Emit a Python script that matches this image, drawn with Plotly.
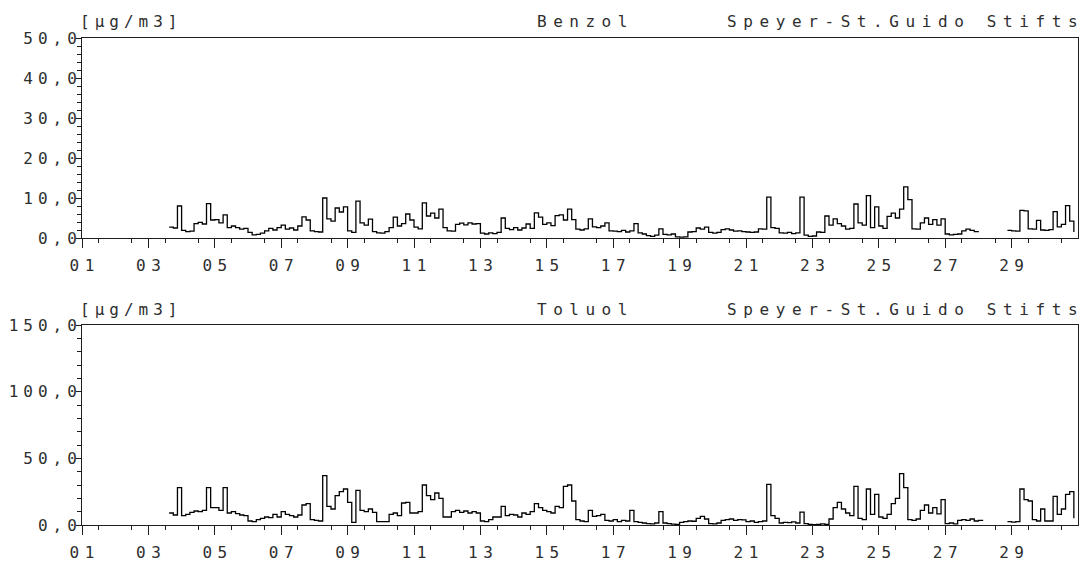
import numpy as np
import plotly.graph_objects as go

N = None
# 3-hourly values (8 per day: 00,03,06,09,12,15,18,21 h), days 01..30
benzol = [
    N, N, N, N, N, N, N, N,                     # 01
    N, N, N, N, N, N, N, N,                     # 02
    N, N, N, N, N, 2.7, 2.5, 8.0,               # 03
    1.9, 1.6, 1.7, 3.6, 3.9, 3.5, 8.6, 4.5,     # 04
    4.6, 3.8, 5.8, 2.6, 3.0, 2.6, 2.2, 2.4,     # 05
    1.4, 0.8, 0.9, 1.2, 1.8, 2.4, 2.0, 2.6,     # 06
    3.2, 2.2, 2.5, 2.0, 3.0, 5.3, 4.5, 1.8,     # 07
    1.6, 1.5, 10.0, 4.8, 4.2, 7.5, 6.5, 7.8,    # 08
    1.8, 1.4, 9.2, 3.8, 3.2, 4.7, 1.6, 1.3,     # 09
    1.2, 1.6, 2.6, 5.2, 3.0, 3.6, 6.0, 4.5,     # 10
    2.7, 2.3, 8.8, 5.5, 6.2, 5.0, 7.2, 2.6,     # 11
    1.8, 1.7, 3.4, 3.7, 3.3, 3.8, 3.5, 3.6,     # 12
    1.2, 1.0, 1.3, 1.1, 1.4, 5.0, 2.4, 2.1,     # 13
    2.6, 2.0, 2.5, 3.5, 2.4, 6.3, 5.2, 3.4,     # 14
    3.8, 3.1, 5.6, 5.8, 4.5, 7.2, 4.6, 2.2,     # 15
    2.0, 2.3, 4.8, 2.8, 2.6, 3.0, 3.8, 1.8,     # 16
    1.7, 1.6, 1.9, 1.5, 1.8, 3.6, 1.3, 1.0,     # 17
    0.6, 0.4, 0.7, 2.3, 0.9, 0.8, 1.0, 0.3,     # 18
    0.2, 0.3, 1.5, 1.6, 2.5, 2.2, 2.7, 1.4,     # 19
    1.2, 1.4, 2.1, 2.3, 2.0, 1.7, 1.8, 1.6,     # 20
    1.5, 1.4, 1.5, 2.3, 2.2, 10.2, 2.6, 2.4,    # 21
    1.3, 1.2, 1.4, 1.1, 1.3, 10.2, 0.7, 0.4,    # 22
    0.5, 1.5, 1.4, 5.5, 3.2, 4.8, 3.6, 3.0,     # 23
    2.2, 2.4, 8.5, 3.8, 3.2, 10.6, 2.6, 7.8,    # 24
    3.0, 2.4, 5.4, 6.2, 5.0, 7.2, 12.8, 9.6,    # 25
    2.3, 2.2, 3.8, 5.0, 3.4, 4.6, 3.2, 4.8,     # 26
    1.0, 0.8, 0.9, 1.0, 1.8, 2.2, 1.9, 1.6,     # 27
    1.7, N, N, N, N, N, N, 1.9,                 # 28
    1.8, 1.7, 6.9, 6.8, 2.3, 2.2, 4.4, 2.0,     # 29
    1.9, 2.1, 6.6, 2.8, 3.4, 8.1, 4.2, 1.5,     # 30
]

toluol = [
    N, N, N, N, N, N, N, N,                     # 01
    N, N, N, N, N, N, N, N,                     # 02
    N, N, N, N, N, 9, 7.5, 28,                  # 03
    7, 8, 9.5, 10.5, 10, 11, 28, 13,            # 04
    13, 11, 28, 9, 10, 8.5, 7.5, 7,             # 05
    3, 2.5, 4, 5, 6, 5.5, 8, 6,                 # 06
    10, 8, 7, 6, 7.5, 15, 16, 4,                # 07
    3.5, 3, 37, 14, 12, 22, 25, 27,             # 08
    17, 2, 26, 11, 10, 12, 9.5, 2.5,            # 09
    2.5, 2.5, 8, 9, 7, 16.5, 17, 9,             # 10
    9, 10, 30, 22, 19, 24, 20, 6,               # 11
    6, 10, 11, 9.5, 10.5, 9, 10, 9,             # 12
    3, 2.5, 4, 6, 6, 14, 7, 8,                  # 13
    7.5, 6, 9, 8, 10, 16, 13, 11,               # 14
    10, 9, 14, 13, 29, 30, 18, 4,               # 15
    3, 2.5, 11, 6.5, 7, 8, 3.5, 3,              # 16
    4, 2.5, 3.5, 3, 11, 2.5, 2, 1.5,            # 17
    1, 0.8, 1.5, 10, 1.5, 1.0, 0.6, 0.4,        # 18
    2, 2.5, 3, 2.8, 5, 6.5, 4.5, 1.0,           # 19
    0.8, 1.5, 3.5, 4, 4.5, 3.5, 4, 3.8,         # 20
    2.5, 3, 2, 2.5, 3, 30.5, 7, 5,              # 21
    1.5, 2, 1.8, 2.4, 1.5, 9.7, 1, 0.5,         # 22
    0.3, 0.5, 0.8, 0.5, 4.5, 13, 17, 12,        # 23
    9, 7, 29, 5, 4, 27, 8, 23,                  # 24
    6, 5, 8, 16, 20, 38.5, 28, 4,               # 25
    3.5, 4.5, 11, 15, 9, 13, 8.4, 19,           # 26
    1, 1.5, 0.8, 3.5, 4, 3.5, 4.5, 3,           # 27
    3.5, 3, N, N, N, N, N, 2.5,                 # 28
    2.2, 2.5, 27, 19, 18, 4, 3, 12,             # 29
    3, 3, 21.5, 8, 12, 23, 25, 5,               # 30
]

samples_per_day = 8
days_in_month = 30

day_tick_values = [1, 3, 5, 7, 9, 11, 13, 15, 17, 19, 21, 23, 25, 27, 29]
day_tick_labels = ["01", "03", "05", "07", "09", "11", "13", "15", "17", "19",
                   "21", "23", "25", "27", "29"]

benzol_ticks = [0, 10, 20, 30, 40, 50]
benzol_tick_labels = ["0,0", "10,0", "20,0", "30,0", "40,0", "50,0"]
toluol_ticks = [0, 50, 100, 150]
toluol_tick_labels = ["0,0", "50,0", "100,0", "150,0"]

unit_label = "[µg/m3]"
titles = ["Benzol", "Toluol"]
station = "Speyer-St.Guido Stifts"

# ---------------------------------------------------------------------------
W, H = 1085, 566
L, R, T, B = 82, 7, 38, 41
PW, PH = W - L - R, H - T - B
FONT = "DejaVu Sans Mono"
INK = "#1e1e1e"
TXT = "#2e2e2e"


def px(xp):
    return (xp - L) / PW


def py(yp):
    return (H - B - yp) / PH


def spaced(s, ls):
    if len(s) < 2:
        return s
    return f'<span style="letter-spacing:{ls}px">{s[:-1]}</span>{s[-1]}'


x = 1 + np.arange(len(benzol)) / samples_per_day
x_end = 1 + days_in_month

fig = go.Figure()
fig.add_trace(go.Scatter(x=x, y=benzol, mode="lines", xaxis="x", yaxis="y",
                         line=dict(color="black", width=1.3, shape="hv"),
                         showlegend=False, connectgaps=False))
fig.add_trace(go.Scatter(x=x, y=toluol, mode="lines", xaxis="x2", yaxis="y2",
                         line=dict(color="black", width=1.3, shape="hv"),
                         showlegend=False, connectgaps=False))

tickfont = dict(family=FONT, size=16, color=TXT)
half_days = list(np.arange(1.5, x_end, 1.0))
whole_days = [d for d in range(2, x_end) if d not in day_tick_values]


def xaxis_cfg(anchor):
    return dict(anchor=anchor, domain=[0, 1], range=[1, x_end], automargin=False,
                tickmode="array", tickvals=day_tick_values,
                ticktext=[spaced(t, 5.5) for t in day_tick_labels],
                ticks="outside", ticklen=9, tickwidth=1, tickcolor=INK,
                showline=True, linecolor=INK, linewidth=1, mirror=True,
                showgrid=False, zeroline=False, tickfont=tickfont,
                ticklabelstandoff=4,
                minor=dict(tickmode="array", tickvals=half_days, ticks="outside",
                           ticklen=4, tickwidth=1, tickcolor=INK, showgrid=False))


def xaxis_mid(over, anchor):
    return dict(overlaying=over, anchor=anchor, range=[1, x_end], automargin=False,
                tickmode="array", tickvals=whole_days, ticks="outside",
                ticklen=6, tickwidth=1, tickcolor=INK, showticklabels=False,
                showline=False, showgrid=False, zeroline=False)


def yaxis_cfg(anchor, dom, rng, tv, tt, minor_dt):
    return dict(anchor=anchor, domain=dom, range=rng, tickmode="array",
                automargin=False,
                tickvals=tv, ticktext=[spaced(t, 5) for t in tt],
                ticks="outside", ticklen=5, tickwidth=1, tickcolor=INK,
                showline=True, linecolor=INK, linewidth=1, mirror=True,
                showgrid=False, zeroline=False, tickfont=tickfont,
                ticklabelstandoff=-4,
                minor=dict(dtick=minor_dt, tick0=0, ticks="outside", ticklen=4,
                           tickwidth=1, tickcolor=INK, showgrid=False))


top_dom = [py(238), 1]
bot_dom = [0, py(325)]

fig.update_layout(
    width=W, height=H, autosize=False,
    margin=dict(l=L, r=R, t=T, b=B, pad=0, autoexpand=False),
    paper_bgcolor="white", plot_bgcolor="white",
    xaxis=xaxis_cfg("y"),
    xaxis2=xaxis_cfg("y2"),
    xaxis3=xaxis_mid("x", "y"),
    xaxis4=xaxis_mid("x2", "y2"),
    yaxis=yaxis_cfg("x", top_dom, [0, 50], benzol_ticks, benzol_tick_labels, 2),
    yaxis2=yaxis_cfg("x2", bot_dom, [0, 150], toluol_ticks, toluol_tick_labels, 10),
)

annots = []
for ycen, title in [(22, titles[0]), (309, titles[1])]:
    annots.append(dict(text=spaced(unit_label, 5), x=px(78), y=py(ycen),
                       xanchor="left", yanchor="middle"))
    annots.append(dict(text=spaced(title, 6.5), x=px(582), y=py(ycen),
                       xanchor="center", yanchor="middle"))
    annots.append(dict(text=spaced(station, 6.6), x=px(1080), y=py(ycen),
                       xanchor="right", yanchor="middle"))
for a in annots:
    a.update(xref="paper", yref="paper", showarrow=False,
             font=dict(family=FONT, size=16, color=TXT))
fig.update_layout(annotations=annots)

fig.write_html(
    "out.html",
    config={"displayModeBar": False},
    post_script="document.body.style.margin='0';"
                "document.body.style.overflow='hidden';",
)
